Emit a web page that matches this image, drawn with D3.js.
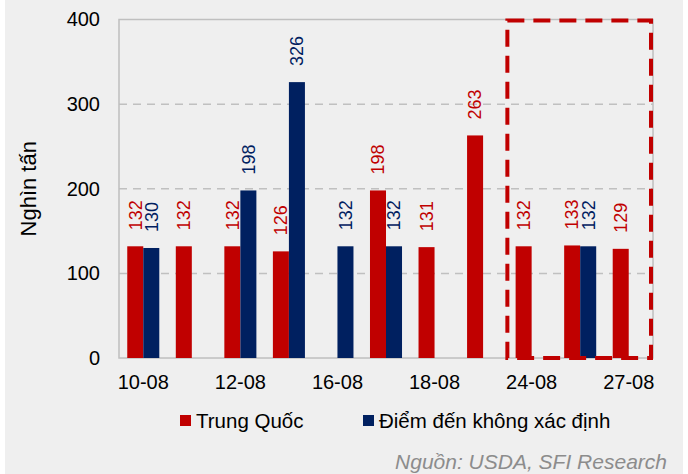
<!DOCTYPE html>
<html>
<head>
<meta charset="utf-8">
<script src="https://cdn.jsdelivr.net/npm/d3@7"></script>
<style>
  body { margin: 0; background: #fff; }
  svg { display: block; font-family: "Liberation Sans", Arial, sans-serif; }
</style>
</head>
<body>
<div id="chart"></div>
<script>
// categories (one per bar group) and the tick labels that are shown
var categories = ["10-08", "11-08", "12-08", "13-08", "16-08", "17-08", "18-08", "19-08", "24-08", "25-08", "27-08"];
var tickLabels = ["10-08", "12-08", "16-08", "18-08", "24-08", "27-08"];

// series values, null = no bar
var trungQuoc = [132, 132, 132, 126, null, 198, 131, 263, 132, 133, 129];
var khongXacDinh = [130, null, 198, 326, 132, 132, null, null, null, 132, null];

var seriesNames = ["Trung Quốc", "Điểm đến không xác định"];
var seriesColors = ["#c00000", "#002060"];
var yTicks = [0, 100, 200, 300, 400];
var highlighted = ["24-08", "25-08", "27-08"];

var W = 688, H = 474;
var margin = { top: 19.5, right: 35, bottom: 116, left: 119 };
var plotW = W - margin.left - margin.right, plotH = H - margin.top - margin.bottom;

var svg = d3.select("#chart").append("svg")
  .attr("width", W).attr("height", H);

// background
svg.append("rect").attr("x", 5).attr("y", 0).attr("width", 678).attr("height", H).attr("fill", "#efefef");

var g = svg.append("g").attr("transform", "translate(" + margin.left + "," + margin.top + ")");

var x0 = d3.scaleBand().domain(categories).range([0, plotW]).paddingInner(0.34).paddingOuter(0.17);
var x1 = d3.scaleBand().domain([0, 1]).range([0, x0.bandwidth()]);
var y = d3.scaleLinear().domain([0, 400]).range([plotH, 0]);

// gridlines
g.selectAll(".grid").data(yTicks.filter(function (d) { return d > 0 && d < 400; }))
  .enter().append("line")
  .attr("x1", 0).attr("x2", plotW)
  .attr("y1", function (d) { return y(d); }).attr("y2", function (d) { return y(d); })
  .attr("stroke", "#c0c0c0").attr("stroke-width", 1.5).attr("stroke-dasharray", "8,6");

// plot border
g.append("rect").attr("x", 0).attr("y", 0).attr("width", plotW).attr("height", plotH)
  .attr("fill", "none").attr("stroke", "#bfbfbf").attr("stroke-width", 1.5);

// y axis
var yAxis = g.append("g").call(d3.axisLeft(y).tickValues(yTicks).tickSize(0).tickPadding(19));
yAxis.select(".domain").remove();
yAxis.selectAll("text").attr("font-size", 20).attr("fill", "#000").attr("font-family", "Liberation Sans, Arial, sans-serif");

// x axis labels (every second category)
var xAxis = g.append("g").attr("transform", "translate(0," + plotH + ")")
  .call(d3.axisBottom(x0).tickValues(tickLabels).tickSize(0).tickPadding(17));
xAxis.select(".domain").remove();
xAxis.selectAll("text").attr("font-size", 20).attr("fill", "#000").attr("font-family", "Liberation Sans, Arial, sans-serif");

// bars + labels
var seriesData = [trungQuoc, khongXacDinh];
seriesData.forEach(function (vals, si) {
  var pts = categories.map(function (c, i) { return { cat: c, v: vals[i] }; })
    .filter(function (d) { return d.v != null; });
  var bx = function (d) { return x0(d.cat) + x1(si); };
  g.selectAll(".bar" + si).data(pts).enter().append("rect")
    .attr("x", bx).attr("width", x1.bandwidth())
    .attr("y", function (d) { return y(d.v); })
    .attr("height", function (d) { return y(0) - y(d.v); })
    .attr("fill", seriesColors[si]);
  g.selectAll(".lab" + si).data(pts).enter().append("text")
    .attr("transform", function (d) {
      return "translate(" + (bx(d) + x1.bandwidth() / 2) + "," + (y(d.v) - 16) + ") rotate(-90)";
    })
    .attr("dy", "0.35em")
    .attr("font-size", 18)
    .attr("fill", seriesColors[si])
    .text(function (d) { return d.v; });
});

// highlight box around the last categories
var gap = x0.step() - x0.bandwidth();
var hx0 = x0(highlighted[0]) - gap / 2;
var hx1 = x0(highlighted[highlighted.length - 1]) + x0.bandwidth() + gap / 2 - 2;
g.append("rect").attr("x", hx0).attr("y", 1).attr("width", hx1 - hx0).attr("height", plotH - 1)
  .attr("fill", "none").attr("stroke", "#c00000").attr("stroke-width", 4)
  .attr("stroke-dasharray", "17,9");

// y axis title
svg.append("text")
  .attr("transform", "translate(28," + (margin.top + plotH / 2) + ") rotate(-90)")
  .attr("text-anchor", "middle").attr("dy", "0.35em")
  .attr("font-size", 22).attr("fill", "#000")
  .text("Nghìn tấn");

// legend
var legendX = [180, 363];
var legend = svg.selectAll(".legend").data(seriesNames).enter().append("g")
  .attr("transform", function (d, i) { return "translate(" + legendX[i] + ",421)"; });
legend.append("rect").attr("x", 0).attr("y", -6).attr("width", 11).attr("height", 11)
  .attr("fill", function (d, i) { return seriesColors[i]; });
legend.append("text").attr("x", 16).attr("dy", "0.35em").attr("font-size", 20.5).attr("fill", "#000")
  .text(function (d) { return d; });

// source
svg.append("text").attr("x", 667).attr("y", 469).attr("text-anchor", "end")
  .attr("font-size", 21).attr("font-style", "italic").attr("fill", "#8c8c8c")
  .text("Nguồn: USDA, SFI Research");
</script>
</body>
</html>
